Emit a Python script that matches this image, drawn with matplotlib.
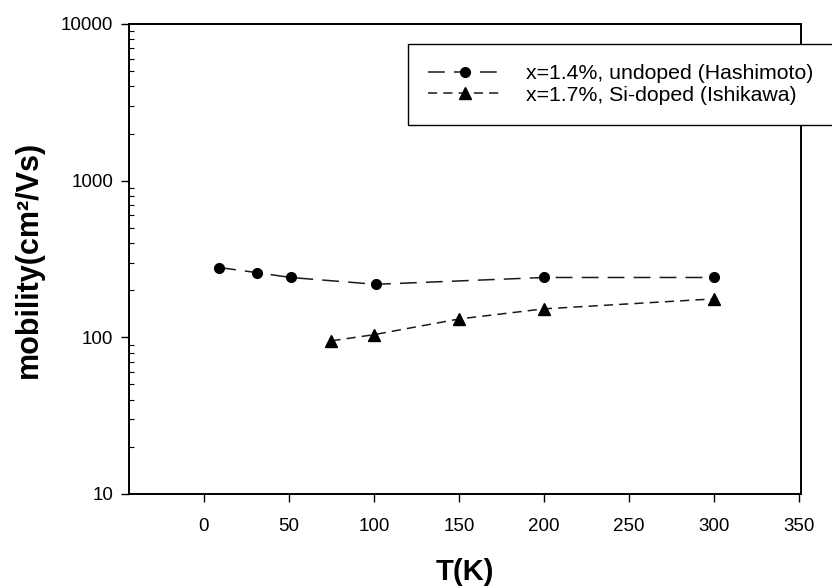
import matplotlib
matplotlib.use('Agg')
import matplotlib.pyplot as plt
from matplotlib.ticker import FixedLocator, LogLocator, NullFormatter

plt.rcParams['font.family'] = ['Liberation Sans', 'DejaVu Sans']

# x=1.4%, undoped (Hashimoto)
t_hash = [9, 31, 51, 101, 200, 300]
mu_hash = [279, 259, 241, 218, 241, 241]

# x=1.7%, Si-doped (Ishikawa)
t_ishi = [75, 100, 150, 200, 300]
mu_ishi = [95, 104, 131, 152, 176]

x_ticks = [0, 50, 100, 150, 200, 250, 300, 350]
y_ticks = [10, 100, 1000, 10000]
y_labels = ['10', '100', '1000', '10000']

W, H = 832, 587
fig = plt.figure(figsize=(W/100, H/100), dpi=100)
# axes box in pixels: left 129, right 801, top 24, bottom 494
ax = fig.add_axes([129/W, 1 - 494/H, (801 - 129)/W, (494 - 24)/H])

ax.plot(t_hash, mu_hash, color='#1a1a1a', lw=1.1, ls=(0, (11, 6)),
        marker='o', ms=7, mfc='black', mec='black',
        label='x=1.4%, undoped (Hashimoto)')
ax.plot(t_ishi, mu_ishi, color='#1a1a1a', lw=1.1, ls=(0, (6, 4)),
        marker='^', ms=8, mfc='black', mec='black',
        label='x=1.7%, Si-doped (Ishikawa)')

ax.set_yscale('log')
ax.set_ylim(10, 10000)
ax.set_xlim(-44, 351)

ax.xaxis.set_major_locator(FixedLocator(x_ticks))
ax.set_xticklabels([str(v) for v in x_ticks])
ax.yaxis.set_major_locator(FixedLocator(y_ticks))
ax.set_yticklabels(y_labels)
ax.yaxis.set_minor_locator(LogLocator(base=10, subs=range(2, 10)))
ax.yaxis.set_minor_formatter(NullFormatter())

ax.tick_params(axis='both', which='major', direction='out', length=5.5,
               width=1, labelsize=13.5)
ax.tick_params(axis='x', which='major', pad=12)
ax.tick_params(axis='y', which='major', pad=6)
ax.tick_params(axis='y', which='minor', direction='in', length=3.5, width=0.8)
ax.tick_params(axis='x', which='minor', length=0)

for s in ax.spines.values():
    s.set_linewidth(1.4)

ax.set_xlabel('T(K)', fontsize=21, fontweight='bold', labelpad=16)
ax.set_ylabel('mobility(cm²/Vs)', fontsize=22, fontweight='bold', labelpad=12)

# legend box runs past the right spine, to the edge of the figure
leg = fig.legend(loc='upper left',
                 bbox_to_anchor=(408/W, 0, (850 - 408)/W, 1 - 44/H),
                 mode='expand', borderaxespad=0,
                 fontsize=15.3, frameon=True, fancybox=False, handlelength=3.5,
                 borderpad=0.95, labelspacing=0.12, handletextpad=1.1,
                 framealpha=1)
leg.get_frame().set_edgecolor('black')
leg.get_frame().set_linewidth(1.0)

fig.savefig('out.png', dpi=100)
